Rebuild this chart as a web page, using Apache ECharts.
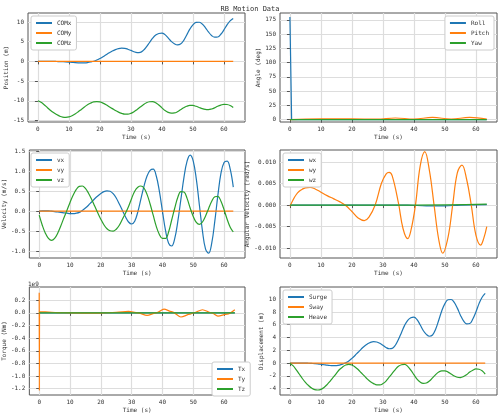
<!DOCTYPE html>
<html>
<head>
<meta charset="utf-8">
<script src="https://cdn.jsdelivr.net/npm/echarts@6/dist/echarts.min.js"></script>
<style>html,body{margin:0;padding:0;background:#fff}#c{width:500px;height:416px}</style>
</head>
<body>
<div id="c"></div>
<script>
const time = Array.from({ length: 64 }, (_, i) => i)
const xTicks = [0, 10, 20, 30, 40, 50, 60]

const comX = [0,0,0,0,0,0,-0.02,-0.05,-0.08,-0.12,-0.18,-0.25,-0.32,-0.37,-0.4,-0.38,-0.3,-0.15,0.05,0.35,0.75,1.2,1.7,2.2,2.65,3.0,3.25,3.35,3.3,3.1,2.8,2.45,2.25,2.3,2.8,3.7,4.8,5.9,6.7,7.1,7.2,6.8,6.0,5.1,4.5,4.2,4.4,5.3,6.7,8.2,9.3,9.9,9.95,9.5,8.6,7.5,6.6,6.15,6.2,6.9,8.0,9.3,10.3,10.9]
const comY = time.map(() => 0)
const comZ = [-10,-10.4,-11,-11.7,-12.4,-13,-13.5,-13.9,-14.15,-14.2,-14.1,-13.8,-13.35,-12.8,-12.2,-11.6,-11,-10.6,-10.3,-10.2,-10.3,-10.6,-11,-11.5,-12,-12.5,-12.9,-13.2,-13.4,-13.4,-13.2,-12.8,-12.2,-11.6,-11,-10.5,-10.25,-10.2,-10.5,-11.1,-11.8,-12.5,-12.95,-13.15,-13.1,-12.8,-12.3,-11.8,-11.4,-11.2,-11.2,-11.4,-11.7,-12,-12.2,-12.25,-12.1,-11.8,-11.4,-11.1,-10.9,-10.95,-11.2,-11.7]

const rollPts = [[0,180],[0.5,180],[0.55,0.3],[10,0.2],[30,0.2],[63.5,0.2]]
const pitchPts = [[0,0],[5,1],[10,1.5],[20,1.6],[28,1],[34,3],[40,1.2],[46,4],[52,1.2],[58,4],[63.5,1.2]]
const yawPts = [[0,0],[63.5,0.1]]

const vx = [0,0.01,0.01,0.01,0,-0.01,-0.02,-0.03,-0.04,-0.05,-0.06,-0.06,-0.05,-0.03,0.02,0.08,0.15,0.23,0.31,0.38,0.44,0.49,0.51,0.5,0.44,0.33,0.18,0.02,-0.14,-0.27,-0.32,-0.25,-0.02,0.3,0.62,0.88,1.02,1.05,0.88,0.5,0,-0.48,-0.8,-0.87,-0.68,-0.25,0.3,0.85,1.25,1.4,1.25,0.8,0.15,-0.5,-0.95,-1.05,-0.8,-0.25,0.4,0.95,1.22,1.25,1.05,0.6]
const vy = time.map(() => 0)
const vz = [-0.1,-0.35,-0.55,-0.68,-0.73,-0.68,-0.55,-0.37,-0.17,0.02,0.22,0.4,0.54,0.62,0.63,0.57,0.45,0.3,0.13,-0.04,-0.2,-0.34,-0.44,-0.49,-0.5,-0.45,-0.35,-0.2,-0.05,0.12,0.32,0.5,0.6,0.63,0.58,0.42,0.18,-0.1,-0.38,-0.58,-0.68,-0.68,-0.52,-0.22,0.08,0.35,0.49,0.48,0.32,0.08,-0.13,-0.28,-0.33,-0.27,-0.12,0.07,0.25,0.36,0.37,0.25,0.04,-0.2,-0.4,-0.52]

const wxPts = [[0,0],[38,0],[44,-0.0002],[50,-0.0002],[55,0],[63.5,0.0001]]
const wyPts = [[0,-0.0003],[1,0.0012],[2,0.0024],[3,0.0032],[4,0.0037],[5,0.004],[6.5,0.0041],[8,0.0038],[10,0.003],[12,0.0022],[14,0.0015],[16,0.0008],[18,-0.0001],[20,-0.0015],[22,-0.003],[24,-0.0036],[25.5,-0.0028],[27.5,0],[29.5,0.005],[31,0.0072],[32,0.0076],[33,0.0068],[35,0.0005],[36.5,-0.0055],[38,-0.0078],[39,-0.006],[40.5,0],[42,0.009],[43.5,0.0124],[45,0.008],[46.5,0],[48,-0.008],[49.3,-0.0112],[51,-0.0075],[52.5,0],[54,0.0075],[55.5,0.0093],[57,0.006],[58.5,0],[60,-0.007],[61.5,-0.0093],[62.5,-0.0078],[63.5,-0.005]]
const wzPts = [[0,0],[40,0],[63.5,0.0002]]

const txPts = [[0,0],[63.5,0]]
const tyPts = [[0,0.32],[0.05,-1.23],[0.1,0.02],[2,0.015],[6,0.005],[10,0],[20,-0.005],[25,0.01],[29,0.025],[32,0],[35,-0.04],[38,0],[40.5,0.06],[43,0.02],[46,-0.065],[49,-0.02],[50,0],[53,0.05],[56,0],[58,-0.05],[61,-0.02],[63.5,0.05]]
const tzPts = [[0,0],[63.5,0]]

const surge = comX
const sway = time.map(() => 0)
const heave = comZ.map(v => +(v + 10).toFixed(2))

const C = ['#1f77b4', '#ff7f0e', '#2ca02c']
const F = 'DejaVu Sans Mono'
const txt = { fontFamily: F, fontSize: 6, color: '#333' }

const grids = [
  { left: 28, right: 255, top: 13, height: 109 },
  { left: 280, right: 3, top: 13, height: 109 },
  { left: 28, right: 255, top: 150, height: 108 },
  { left: 280, right: 3, top: 150, height: 108 },
  { left: 28, right: 255, top: 287, height: 108 },
  { left: 280, right: 3, top: 287, height: 108 },
].map(g => ({ ...g, show: true, borderColor: '#555', borderWidth: 1 }))

function xAxis(i) {
  return {
    gridIndex: i, type: 'value', min: -3.2, max: 66.8,
    name: 'Time (s)', nameLocation: 'middle', nameGap: 12, nameTextStyle: txt,
    axisLine: { show: false },
    axisTick: { customValues: xTicks, length: 3, lineStyle: { color: '#555' } },
    axisLabel: { customValues: xTicks, ...txt, margin: 4 },
    splitLine: { show: true, lineStyle: { color: '#ddd', width: 1.2 } },
  }
}
function yAxis(i, name, min, max, ticks, fmt, gap) {
  return {
    gridIndex: i, type: 'value', min, max,
    name, nameLocation: 'middle', nameGap: gap, nameTextStyle: txt,
    axisLine: { show: false },
    axisTick: { show: true, customValues: ticks, length: 3, lineStyle: { color: '#555' } },
    axisLabel: { customValues: ticks, ...txt, margin: 4, formatter: fmt },
    splitLine: { show: true, lineStyle: { color: '#ddd', width: 1.2 } },
  }
}
const range = (a, b, s) => { const r = []; for (let v = a; v <= b + 1e-9; v += s) r.push(+v.toFixed(4)); return r }

const pair = v => time.map((t, i) => [t, v[i]])
function line(name, i, data, ci, smooth = 0.4, mono) {
  return { name, type: 'line', xAxisIndex: i, yAxisIndex: i, data, symbol: 'none',
    smooth, smoothMonotone: mono, lineStyle: { width: 1.2, color: C[ci] }, itemStyle: { color: C[ci] } }
}
function legend(names, pos) {
  return { data: names, orient: 'vertical', ...pos, itemWidth: 16, itemHeight: 2, itemGap: 4,
    icon: 'rect', textStyle: txt, backgroundColor: '#fff', borderColor: '#ccc', borderWidth: 1, borderRadius: 2, padding: [4, 5] }
}

const chart = echarts.init(document.getElementById('c'))
chart.setOption({
  animation: false,
  title: { text: 'RB Motion Data', left: 'center', top: 1, textStyle: { fontFamily: F, fontSize: 7, fontWeight: 'normal', color: '#333' } },
  graphic: [{ type: 'text', left: 28, top: 281, style: { text: '1e9', font: '6px ' + F, fill: '#333' } }],
  grid: grids,
  xAxis: [0, 1, 2, 3, 4, 5].map(xAxis),
  yAxis: [
    yAxis(0, 'Position (m)', -15.4, 12.3, range(-15, 10, 5), v => v, 14),
    yAxis(1, 'Angle (deg)', -4, 187, range(0, 175, 25), v => v, 17),
    yAxis(2, 'Velocity (m/s)', -1.17, 1.53, range(-1, 1.5, 0.5), v => v.toFixed(1), 16),
    yAxis(3, 'Angular Velocity (rad/s)', -0.0123, 0.0128, range(-0.01, 0.01, 0.005), v => v.toFixed(3), 26),
    yAxis(4, 'Torque (Nm)', -1.3, 0.41, range(-1.2, 0.2, 0.2), v => v.toFixed(1), 17),
    yAxis(5, 'Displacement (m)', -4.98, 11.9, range(-4, 10, 2), v => v, 14),
  ],
  legend: [
    legend(['COMx', 'COMy', 'COMz'], { left: 31, top: 16 }),
    legend(['Roll', 'Pitch', 'Yaw'], { right: 6, top: 16 }),
    legend(['vx', 'vy', 'vz'], { left: 31, top: 153 }),
    legend(['wx', 'wy', 'wz'], { left: 283, top: 153 }),
    legend(['Tx', 'Ty', 'Tz'], { left: 212, top: 362 }),
    legend(['Surge', 'Sway', 'Heave'], { left: 283, top: 290 }),
  ],
  series: [
    line('COMx', 0, pair(comX), 0), line('COMy', 0, pair(comY), 1), line('COMz', 0, pair(comZ), 2),
    line('Roll', 1, rollPts, 0, false), line('Pitch', 1, pitchPts, 1), line('Yaw', 1, yawPts, 2),
    line('vx', 2, pair(vx), 0), line('vy', 2, pair(vy), 1), line('vz', 2, pair(vz), 2),
    line('wx', 3, wxPts, 0), line('wy', 3, wyPts, 1), line('wz', 3, wzPts, 2),
    line('Tx', 4, txPts, 0), line('Ty', 4, tyPts, 1, 0.3, 'x'), line('Tz', 4, tzPts, 2),
    line('Surge', 5, pair(surge), 0), line('Sway', 5, pair(sway), 1), line('Heave', 5, pair(heave), 2),
  ],
})
</script>
</body>
</html>
